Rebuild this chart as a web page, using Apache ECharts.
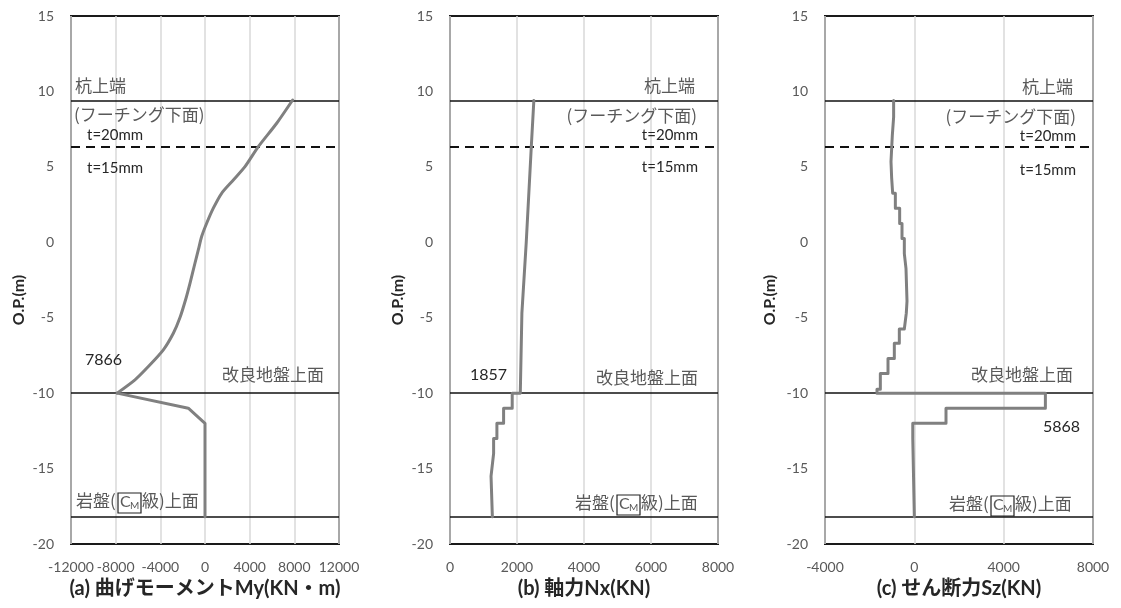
<!DOCTYPE html>
<html><head><meta charset="utf-8">
<script src="https://cdn.jsdelivr.net/npm/echarts@6/dist/echarts.min.js"></script>
<style>html,body{margin:0;padding:0;background:#fff}#c{width:1121px;height:608px}</style>
</head><body><div id="c"></div>
<script>
// ---- data ----
const yRange = [-20, 15];
const yStep = 5;
const momentDepth = [9.43, 7.89, 6.34, 5.01, 4.13, 3.25, 2.26, 1.26, 0.38, -0.51, -1.39, -2.71, -3.71, -4.99, -6.03, -7.13, -8.24, -9.12, -10.0, -11.0, -12.0, -18.2];
const momentValue = [7850, 6420, 4775, 3580, 2540, 1490, 745, 150, -300, -600, -900, -1340, -1700, -2240, -2836, -3731, -5075, -6270, -7866, -1495, 0, 0];
const axialDepth = [9.4, 6.3, 0.0, -4.7, -10.0, -10.0, -11.0, -11.0, -12.0, -12.0, -13.0, -13.0, -14.0, -14.0, -15.5, -18.2];
const axialValue = [2503, 2426, 2276, 2146, 2098, 1857, 1857, 1600, 1600, 1400, 1400, 1302, 1302, 1252, 1225, 1265];
const shearBounds = [9.4, 8.3, 7.1, 5.35, 4.25, 3.25, 2.25, 1.25, 0.25, -0.75, -1.75, -3.9, -4.7, -5.75, -6.7, -7.7, -8.7, -9.75, -10.0, -11.0, -12.0, -13.0, -18.2];
const shearValue = [-927, -985, -1045, -1015, -970, -850, -657, -552, -448, -373, -328, -360, -448, -672, -896, -1179, -1522, -1672, 5868, 1418, -70, 0];
const solidLevels = [9.4, -10.0, -18.2];
const dashedLevels = [6.3];
const xRangeA = [-12000, 12000], xStepA = 4000;
const xRangeB = [0, 8000], xStepB = 2000;
const xRangeC = [-4000, 8000], xStepC = 4000;
const peakLabels = ['7866', '1857', '5868'];
const axisTitles = ['(a) 曲げモーメントMy(KN・m)', '(b) 軸力Nx(KN)', '(c) せん断力Sz(KN)'];

// ---- build ----
const momentData = momentDepth.map((d, i) => [momentValue[i], d]);
const kinkIdx = momentDepth.indexOf(-10.0);
const momentUpper = momentData.slice(0, kinkIdx + 1);
const momentLower = momentData.slice(kinkIdx);
const axialData = axialDepth.map((d, i) => [axialValue[i], d]);
const shearData = [];
shearValue.forEach((v, i) => { shearData.push([v, shearBounds[i]]); shearData.push([v, shearBounds[i + 1]]); });

const LAT = 'Lato, "Noto Sans CJK JP"';
const JP = '"Noto Sans CJK JP"';
const GRID_TOP = 16, GRID_H = 528, GRID_W = 268;
const lefts = [71, 450, 825];
const ranges = [[xRangeA, xStepA], [xRangeB, xStepB], [xRangeC, xStepC]];

const grids = lefts.map(l => ({left: l, top: GRID_TOP, width: GRID_W, height: GRID_H, show: true, borderColor: '#1a1a1a', borderWidth: 2, backgroundColor: 'transparent'}));
const xAxes = ranges.map((r, i) => ({
  type: 'value', gridIndex: i, min: r[0][0], max: r[0][1], interval: r[1],
  axisLine: {show: false}, axisTick: {show: false},
  splitLine: {show: true, lineStyle: {color: '#d9d9d9', width: 1.5}},
  axisLabel: {color: '#595959', fontFamily: LAT, fontSize: 14, margin: 16, showMinLabel: true, showMaxLabel: true,
    hideOverlap: false, formatter: v => String(v)},
  name: axisTitles[i], nameLocation: 'middle', nameGap: 35,
  nameTextStyle: {color: '#262626', fontFamily: LAT, fontWeight: 'bold', fontSize: 20}
}));
const yAxes = lefts.map((l, i) => ({
  type: 'value', gridIndex: i, min: yRange[0], max: yRange[1], interval: yStep,
  axisLine: {show: false}, axisTick: {show: false}, splitLine: {show: false},
  axisLabel: {color: '#595959', fontFamily: LAT, fontSize: 14, margin: 17, formatter: v => String(v)}
}));
const markData = solidLevels.map(v => ({yAxis: v, lineStyle: {type: 'solid', width: 1.5, color: '#111'}}))
  .concat(dashedLevels.map(v => ({yAxis: v, lineStyle: {type: [9, 6], width: 2, color: '#111'}})));
function lineSeries(i, data, smooth, withMarks) {
  const s = {
    type: 'line', xAxisIndex: i, yAxisIndex: i, data: data, symbol: 'none', z: 3, smooth: smooth,
    lineStyle: {color: '#808080', width: 3, cap: 'round', join: 'round'}, silent: true, animation: false
  };
  if (withMarks) s.markLine = {silent: true, symbol: ['none', 'none'], label: {show: false}, animation: false, z: 2, data: markData};
  return s;
}
const series = [
  lineSeries(0, momentUpper, 0.25, true),
  lineSeries(0, momentLower, false, false),
  lineSeries(1, axialData, false, true),
  lineSeries(2, shearData, false, true)
];

function txt(x, y, text, opt) {
  opt = opt || {};
  return {type: 'text', x: x, y: y, rotation: opt.rot || 0, z: 10,
    style: {text: text, fontSize: opt.size || 17, fontFamily: opt.font || JP, fontWeight: opt.weight || 'normal',
      fill: opt.color || '#595959', align: opt.align || 'left', verticalAlign: 'middle'}};
}
function rockLabel(x0, yc) {
  return [
    txt(x0, yc, '岩盤('),
    {type: 'rect', z: 10, shape: {x: x0 + 42, y: yc - 8, width: 23, height: 20}, style: {fill: 'none', stroke: '#222', lineWidth: 1.2}},
    txt(x0 + 44, yc + 1, 'C', {font: LAT, size: 16}),
    txt(x0 + 54, yc + 5, 'M', {font: LAT, size: 10}),
    txt(x0 + 66, yc, '級)上面')
  ];
}
const g = [];
[19, 398, 770].forEach(x => g.push(txt(x, 300, 'O.P.(m)', {rot: Math.PI / 2, align: 'center', font: LAT, weight: 'bold', size: 16, color: '#262626'})));
// panel a
g.push(txt(75, 86, '杭上端'));
g.push(txt(74, 115, '(フーチング下面)'));
g.push(txt(87, 135, 't=20mm', {font: LAT, size: 15, color: '#262626'}));
g.push(txt(87, 168, 't=15mm', {font: LAT, size: 15, color: '#262626'}));
g.push(txt(85, 360, peakLabels[0], {font: LAT, size: 16, color: '#262626'}));
g.push(txt(324, 375, '改良地盤上面', {align: 'right'}));
g.push(...rockLabel(76, 501));
// panel b
g.push(txt(695, 86, '杭上端', {align: 'right'}));
g.push(txt(697, 116, '(フーチング下面)', {align: 'right'}));
g.push(txt(698, 135, 't=20mm', {font: LAT, size: 15, color: '#262626', align: 'right'}));
g.push(txt(698, 167, 't=15mm', {font: LAT, size: 15, color: '#262626', align: 'right'}));
g.push(txt(470, 375, peakLabels[1], {font: LAT, size: 16, color: '#262626'}));
g.push(txt(698, 378, '改良地盤上面', {align: 'right'}));
g.push(...rockLabel(575, 503));
// panel c
g.push(txt(1073, 87, '杭上端', {align: 'right'}));
g.push(txt(1076, 117, '(フーチング下面)', {align: 'right'}));
g.push(txt(1076, 136, 't=20mm', {font: LAT, size: 15, color: '#262626', align: 'right'}));
g.push(txt(1076, 170, 't=15mm', {font: LAT, size: 15, color: '#262626', align: 'right'}));
g.push(txt(1043, 427, peakLabels[2], {font: LAT, size: 16, color: '#262626'}));
g.push(txt(1073, 375, '改良地盤上面', {align: 'right'}));
g.push(...rockLabel(949, 504));

const chart = echarts.init(document.getElementById('c'), null, {renderer: 'canvas'});
chart.setOption({
  animation: false,
  backgroundColor: '#fff',
  grid: grids, xAxis: xAxes, yAxis: yAxes, series: series,
  graphic: g
});
</script></body></html>
